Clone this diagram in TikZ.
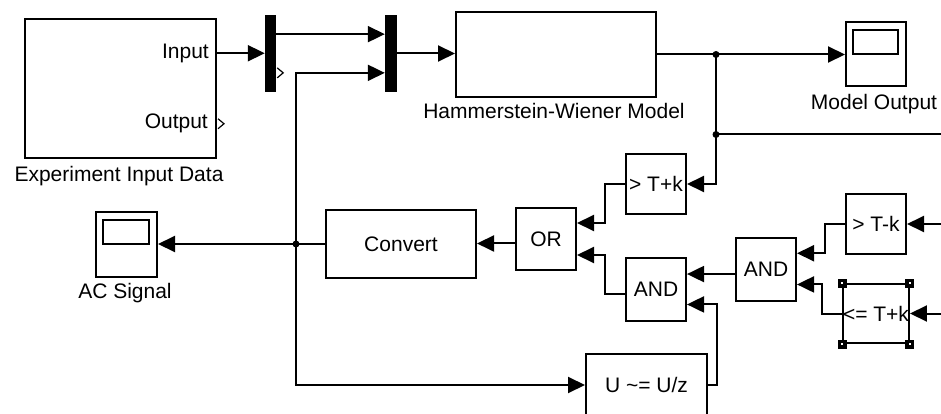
\documentclass[tikz,border=0pt]{standalone}
\usepackage{fontspec}
\setmainfont{Liberation Sans}
\usetikzlibrary{arrows.meta,calc,positioning}
\begin{document}
\begin{tikzpicture}[x=1pt, y=-1pt, font=\fontsize{21}{25}\selectfont,
  wire/.style={line width=2pt},
  sig/.style={wire, -{Triangle[length=17pt,width=16pt]}},
  blk/.style={draw, line width=2pt, inner sep=0pt},
  bar/.style={fill=black, inner sep=0pt},
  port/.style={line width=1.2pt},
  lbl/.style={inner sep=0pt, anchor=base}]
  \useasboundingbox[fill=white] (0,0) rectangle (941,414);
  % source, demux and mux
  \node[blk, minimum width=191pt, minimum height=139pt] (exp) at (120.5,88.5) {};
  \node[lbl, anchor=base east] (inlbl) at (209,59) {Input};
  \node[lbl, anchor=base east] (outlbl) at (208,129) {Output};
  \node[lbl] (explbl) at (119,182) {Experiment Input Data};
  \node[bar, minimum width=11pt, minimum height=77pt] (dmx) at (270.5,53.5) {};
  \node[bar, minimum width=12pt, minimum height=77pt] (mux) at (391,53.5) {};
  % model and scopes
  \node[blk, minimum width=200pt, minimum height=85pt] (hw) at (556,54.5) {};
  \node[lbl] (hwlbl) at (554,119) {Hammerstein-Wiener Model};
  \node[blk, minimum width=60pt, minimum height=64pt] (mout) at (876,54.5) {};
  \node[lbl] (moutlbl) at (874,110) {Model Output};
  \node[blk, minimum width=61pt, minimum height=65pt] (acs) at (126.5,244.5) {};
  \node[lbl] (acslbl) at (125,298) {AC Signal};
  \foreach \s in {mout, acs}
    \draw[wire] ($(\s.north west)+(8,9)$) rectangle ($(\s.north east)+(-9,33)$);
  % logic
  \node[blk, minimum width=150pt, minimum height=68pt] (conv) at (401,244) {Convert};
  \node[blk, minimum width=60pt, minimum height=62pt] (orb) at (546,239) {OR};
  \node[blk, minimum width=60pt, minimum height=60pt] (gtp) at (656,184) {> T+k};
  \node[blk, minimum width=60pt, minimum height=63pt] (and1) at (656,289.5) {AND};
  \node[blk, minimum width=60pt, minimum height=63pt] (and2) at (766,269.5) {AND};
  \node[blk, minimum width=60pt, minimum height=60pt] (gtm) at (876,224) {> T-k};
  \node[blk, minimum width=60pt, minimum height=59pt] (lep) at (876,313.5) {<= T+k};
  \node[blk, minimum width=121pt, minimum height=62pt] (udz) at (646.5,385) {U \textasciitilde= U/z};
  % ports
  \coordinate (expin) at ($(exp.north east)!0.25!(exp.south east)$);
  \coordinate (expout) at ($(exp.north east)!0.75!(exp.south east)$);
  \coordinate (dmxout1) at ($(dmx.north east)!0.25!(dmx.south east)$);
  \coordinate (dmxout2) at ($(dmx.north east)!0.75!(dmx.south east)$);
  \coordinate (muxin2) at ($(mux.north west)!0.75!(mux.south west)$);
  \coordinate (orin1) at ($(orb.north east)!0.25!(orb.south east)$);
  \coordinate (orin2) at ($(orb.north east)!0.75!(orb.south east)$);
  \coordinate (orout) at ($(orb.north west)!0.57!(orb.south west)$);
  \coordinate (and1in1) at ($(and1.north east)!0.25!(and1.south east)$);
  \coordinate (and1in2) at ($(and1.north east)!0.73!(and1.south east)$);
  \coordinate (and1out) at ($(and1.north west)!0.57!(and1.south west)$);
  \coordinate (and2in1) at ($(and2.north east)!0.25!(and2.south east)$);
  \coordinate (and2in2) at ($(and2.north east)!0.73!(and2.south east)$);
  \coordinate (and2out) at ($(and2.north west)!0.57!(and2.south west)$);
  \coordinate (e0) at (941,134);
  \draw[port] (expout) ++(1,-5) -- ++(6,5) -- ++(-6,5);
  \draw[port] (dmxout2) ++(1,-5) -- ++(6,5) -- ++(-6,5);
  % signals
  \draw[sig] (expin) -- (expin -| dmx.west);
  \draw[sig] (dmxout1) -- (dmxout1 -| mux.west);
  \draw[sig] (mux.east) -- (mux.east -| hw.west);
  \path (hw.east) -- ++(59,0) coordinate (j1) -- ++(0,80) coordinate (j2);
  \path (conv.west) -- ++(-29,0) coordinate (j3);
  \draw[wire] (hw.east) -- (j1) -- (j2) -- (j2 -| e0);
  \draw[sig] (j1) -- (j1 -| mout.west);
  \draw[sig] (j2) |- (gtp.east);
  \draw[sig] (gtp.west) -- ++(-20,0) |- (orin1);
  \draw[sig] (and1out) -- ++(-20,0) |- (orin2);
  \draw[sig] (orout) -- (orout -| conv.east);
  \draw[wire] (conv.west) -- (j3);
  \draw[sig] (j3) -- (j3 -| acs.east);
  \draw[sig] (j3) |- (muxin2);
  \draw[sig] (j3) |- (udz.west);
  \draw[sig] (udz.east) -- ++(9,0) |- (and1in2);
  \draw[sig] (and2out) -- (and2out -| and1.east);
  \draw[sig] (gtm.west) -- ++(-20,0) |- (and2in1);
  \draw[sig] (lep.west) -- ++(-20,0) |- (and2in2);
  \draw[sig] (gtm.east -| e0) -- (gtm.east);
  \draw[sig] (lep.east -| e0) -- (lep.east);
  \foreach \j in {j1, j2, j3} \fill (\j) circle (3.5);
  % selection handles
  \foreach \c in {north west, north east, south west, south east} {
    \fill (lep.\c) ++(-4.5,-4.5) rectangle ++(9,9);
    \fill[white] (lep.\c) ++(-1.2,-1.2) rectangle ++(2.4,2.4);
  }
\end{tikzpicture}
\end{document}
